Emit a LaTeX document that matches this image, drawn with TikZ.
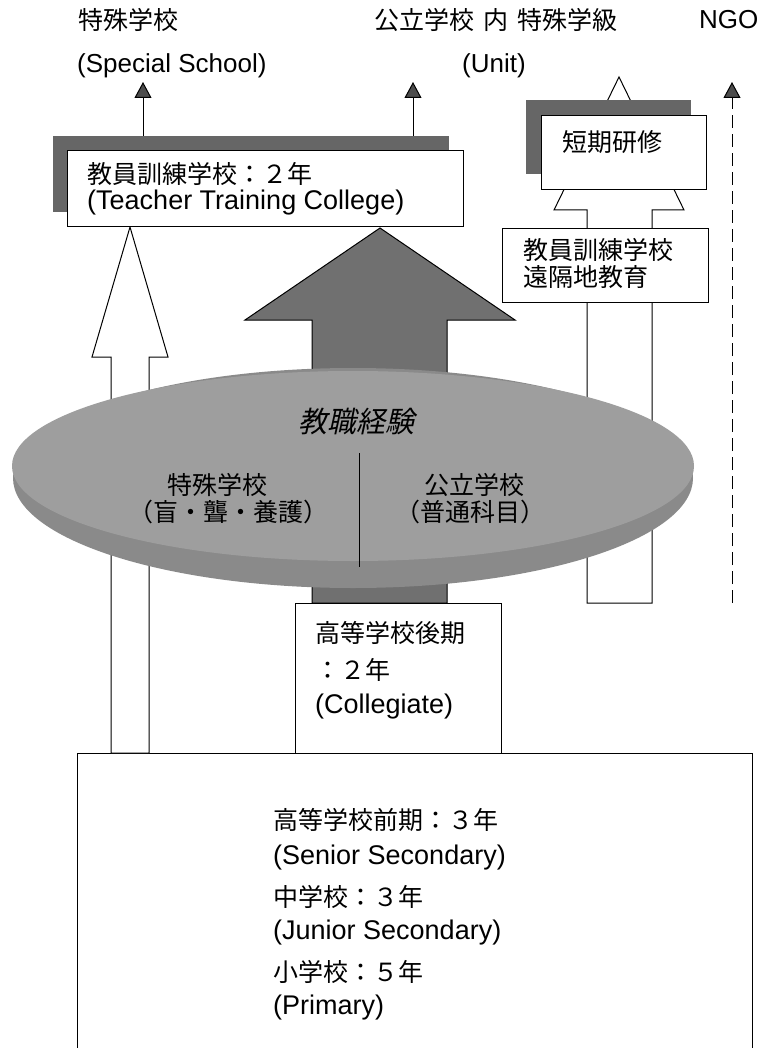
\documentclass[tikz,border=0pt]{standalone}
\usepackage{fontspec}
\setmainfont{Liberation Sans}
\newfontfamily\cjk{Noto Sans CJK JP}
\newfontfamily\cjkit{Noto Sans CJK JP}[FakeSlant=0.22]
\usetikzlibrary{arrows.meta}
\definecolor{shadowgray}{gray}{0.40}
\definecolor{arrowgray}{gray}{0.44}
\definecolor{discgray}{gray}{0.62}
\definecolor{rimgray}{gray}{0.54}
\definecolor{tipgray}{gray}{0.30}
\begin{document}
\begin{tikzpicture}[x=1pt,y=-1pt,
  box/.style={draw=black,line width=1pt,fill=white,inner sep=0pt,anchor=north west},
  shadowbox/.style={fill=shadowgray,draw=none,inner sep=0pt,anchor=north west},
  jt/.style={font=\cjk\fontsize{25}{30}\selectfont,inner sep=0pt,anchor=west},
  et/.style={font=\fontsize{27}{32}\selectfont,inner sep=0pt,anchor=west},
  toplat/.style={font=\fontsize{26}{31}\selectfont,inner sep=0pt,anchor=west},
  thinarrow/.style={line width=1pt,-{Triangle[width=17pt,length=16pt,fill=tipgray]}},
  blockwhite/.style={draw=black,line width=1pt,fill=white,line join=miter},
  blockdark/.style={draw=black,line width=1pt,fill=arrowgray,line join=miter}]
\useasboundingbox (0,0) rectangle (757,1048);
\fill[white] (0,0) rectangle (757,1048);

% base box
\node[box,minimum width=675pt,minimum height=320pt] (basic) at (77,753) {};

% block arrows
\draw[blockwhite] (111,753) -- (111,357) -- (92,357) -- (130,227) -- (168,357) -- (149,357) -- (149,753) -- cycle;
\draw[blockwhite] (587,603) -- (587,210) -- (554,210) -- (619,77) -- (684,210) -- (652,210) -- (652,603) -- cycle;
\draw[blockdark] (312,603) -- (312,320) -- (245,320) -- (380,228) -- (515,320) -- (447,320) -- (447,603) -- cycle;

% disc
\fill[rimgray] (353,478) ellipse [x radius=340pt, y radius=110pt];
\fill[discgray] (353,466) ellipse [x radius=341pt, y radius=95pt];
\draw[line width=0.8pt] (359,453) -- (359,567);

% boxes
\node[box,minimum width=206pt,minimum height=150pt] (coll) at (295,603) {};
\node[shadowbox,minimum width=396pt,minimum height=76pt] (ttcsh) at (53,136) {};
\node[box,minimum width=396pt,minimum height=76pt] (ttc) at (67,150) {};
\node[shadowbox,minimum width=165pt,minimum height=74pt] (stsh) at (526,100) {};
\node[box,minimum width=165pt,minimum height=74pt] (st) at (541,115) {};
\node[box,minimum width=206pt,minimum height=74pt] (dist) at (502,228) {};

% thin arrows
\coordinate (spTop) at (143,82);
\coordinate (unTop) at (413,82);
\coordinate (ngoTop) at (732,82);
\coordinate (ngoBot) at (732,603);
\draw[thinarrow] (ttcsh.north -| spTop) -- (spTop);
\draw[thinarrow] (ttcsh.north -| unTop) -- (unTop);
\draw[thinarrow,dash pattern=on 13pt off 6pt] (ngoBot) -- (ngoTop);

% top labels
\node[jt] (t1) at (78,20) {特殊学校};
\node[toplat] (t2) at (77,66) {(Special School)};
\node[jt] (t3) at (374,20) {公立学校\hspace{9pt}内\hspace{9pt}特殊学級};
\node[toplat,anchor=center] (t4) at (494,66) {(Unit)};
\node[toplat] (t5) at (699,20) {NGO};

% box texts
\node[jt] (ttcj) at (87,174) {教員訓練学校：２年};
\node[et] (ttce) at (87,203) {(Teacher Training College)};
\node[jt] (stj) at (562,142) {短期研修};
\node[jt] (ld1) at (523,250) {教員訓練学校};
\node[jt] (ld2) at (523,277) {遠隔地教育};

% disc texts
\node[font=\cjkit\fontsize{29}{34}\selectfont,inner sep=0pt] (exp) at (356,422) {教職経験};
\node[jt,anchor=center] (e1) at (217,485) {特殊学校};
\node[jt,anchor=center] (e2) at (228,512) {（盲・聾・養護）};
\node[jt,anchor=center] (e3) at (474,485) {公立学校};
\node[jt,anchor=center] (e4) at (470,512) {（普通科目）};

% collegiate
\node[jt] (c1) at (315,633) {高等学校後期};
\node[jt] (c2) at (315,670) {：２年};
\node[et] (c3) at (315,707) {(Collegiate)};

% base texts
\node[jt] (b1) at (273,820) {高等学校前期：３年};
\node[et] (b2) at (273,858) {(Senior Secondary)};
\node[jt] (b3) at (273,897) {中学校：３年};
\node[et] (b4) at (273,933) {(Junior Secondary)};
\node[jt] (b5) at (273,972) {小学校：５年};
\node[et] (b6) at (273,1008) {(Primary)};
\end{tikzpicture}
\end{document}
